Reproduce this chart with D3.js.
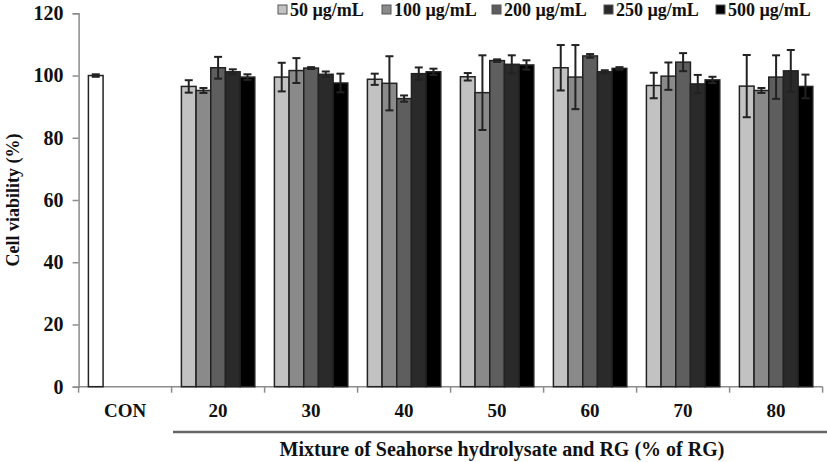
<!DOCTYPE html>
<html>
<head>
<meta charset="utf-8">
<script src="https://cdn.jsdelivr.net/npm/d3@7"></script>
<style>
  body { margin: 0; background: #fff; }
  text { font-family: "Liberation Serif", "DejaVu Serif", serif; font-weight: bold; }
</style>
</head>
<body>
<div id="chart"></div>
<script>
// categories on x axis
var groups = ["CON", "20", "30", "40", "50", "60", "70", "80"];
var series = ["50 µg/mL", "100 µg/mL", "200 µg/mL", "250 µg/mL", "500 µg/mL"];
var colors = ["#c2c2c2", "#8a8a8a", "#5e5e5e", "#2a2a2a", "#000000"];

// mean values per series, for groups 20..80
var v50  = [96.5, 99.5, 98.8, 99.6, 102.5, 96.8, 96.6];
var v100 = [95.2, 101.6, 97.5, 94.5, 99.5, 99.8, 95.2];
var v200 = [102.5, 102.4, 92.6, 104.8, 106.3, 104.3, 99.5];
var v250 = [101.2, 100.4, 100.6, 103.6, 101.2, 97.3, 101.5];
var v500 = [99.5, 97.6, 101.2, 103.4, 102.3, 98.6, 96.5];
// error (sd)
var e50  = [2.0, 4.6, 1.8, 1.2, 7.3, 4.1, 10.0];
var e100 = [0.8, 4.0, 8.7, 12.0, 10.3, 4.4, 0.8];
var e200 = [3.5, 0.3, 1.0, 0.4, 0.6, 2.9, 7.0];
var e250 = [0.8, 0.9, 2.0, 2.9, 0.5, 2.9, 6.7];
var e500 = [0.9, 3.0, 1.0, 1.5, 0.4, 1.0, 3.8];
var conValue = 100, conErr = 0.4;
var yTicks = [0, 20, 40, 60, 80, 100, 120];

var vals = [v50, v100, v200, v250, v500];
var errs = [e50, e100, e200, e250, e500];

const width = 827, height = 462;
var svg = d3.select("#chart").append("svg")
  .attr("width", width).attr("height", height);

var y = d3.scaleLinear().domain([0, 120]).range([386.7, 13.3]);
var x = d3.scaleBand().domain(groups).range([78.6, 822.6]).padding(0);
var xs = d3.scaleBand().domain(series).range([9.8, x.bandwidth() - 9.8]).padding(0);

// y axis
var yAxis = svg.append("g").attr("transform", "translate(78.6,0)")
  .call(d3.axisLeft(y).tickValues(yTicks).tickSize(6).tickPadding(9));
yAxis.select(".domain").attr("stroke", "#8c8c8c").attr("stroke-width", 1.5);
yAxis.selectAll(".tick line").attr("stroke", "#8c8c8c").attr("stroke-width", 1.5);
yAxis.selectAll(".tick text").attr("font-size", 20).attr("fill", "#111")
  .style("font-family", "Liberation Serif").style("font-weight", "bold");

// x axis line + ticks at band edges
var xg = svg.append("g");
xg.append("line").attr("x1", 78.6).attr("x2", 822.6).attr("y1", y(0)).attr("y2", y(0))
  .attr("stroke", "#8c8c8c").attr("stroke-width", 1.5);
xg.selectAll("line.tk").data(groups.concat(["end"])).enter().append("line")
  .attr("x1", (d, i) => 78.6 + i * x.bandwidth())
  .attr("x2", (d, i) => 78.6 + i * x.bandwidth())
  .attr("y1", y(0)).attr("y2", y(0) + 6)
  .attr("stroke", "#8c8c8c").attr("stroke-width", 1.5);
xg.selectAll("text").data(groups).enter().append("text")
  .attr("x", d => x(d) + x.bandwidth() / 2)
  .attr("y", 417).attr("text-anchor", "middle")
  .attr("font-size", 19).attr("fill", "#111").text(d => d);

// CON bar
svg.append("rect")
  .attr("x", x("CON") + xs(series[0])).attr("y", y(conValue))
  .attr("width", xs.bandwidth()).attr("height", y(0) - y(conValue))
  .attr("fill", "#fff").attr("stroke", "#222").attr("stroke-width", 1.5);

// grouped bars
var rows = [];
groups.slice(1).forEach(function(g, gi) {
  series.forEach(function(s, si) {
    rows.push({g: g, s: s, si: si, v: vals[si][gi], e: errs[si][gi]});
  });
});

svg.append("g").selectAll("rect").data(rows).enter().append("rect")
  .attr("x", d => x(d.g) + xs(d.s))
  .attr("y", d => y(d.v))
  .attr("width", xs.bandwidth())
  .attr("height", d => y(0) - y(d.v))
  .attr("fill", d => colors[d.si])
  .attr("stroke", "#222").attr("stroke-width", 1.5);

// error bars
var allErr = rows.concat([{g: "CON", s: series[0], v: conValue, e: conErr}]);
var eg = svg.append("g").attr("stroke", "#222").attr("stroke-width", 2);
allErr.forEach(function(d) {
  var cx = x(d.g) + xs(d.s) + xs.bandwidth() / 2;
  eg.append("line").attr("x1", cx).attr("x2", cx).attr("y1", y(d.v + d.e)).attr("y2", y(d.v - d.e));
  eg.append("line").attr("x1", cx - 4).attr("x2", cx + 4).attr("y1", y(d.v + d.e)).attr("y2", y(d.v + d.e));
  eg.append("line").attr("x1", cx - 4).attr("x2", cx + 4).attr("y1", y(d.v - d.e)).attr("y2", y(d.v - d.e));
});

// y title
svg.append("text")
  .attr("transform", "translate(19," + y(60) + ") rotate(-90)")
  .attr("text-anchor", "middle").attr("font-size", 18).attr("fill", "#111")
  .text("Cell viability (%)");

// bracket line and x title
svg.append("line").attr("x1", 173).attr("x2", 827).attr("y1", 432).attr("y2", 432)
  .attr("stroke", "#666").attr("stroke-width", 2.5);
svg.append("text").attr("x", 502).attr("y", 456).attr("text-anchor", "middle")
  .attr("font-size", 20).attr("fill", "#111")
  .text("Mixture of Seahorse hydrolysate and RG (% of RG)");

// legend
var legX = [278, 382, 492, 604, 716];
var leg = svg.append("g").selectAll("g").data(series).enter().append("g")
  .attr("transform", (d, i) => "translate(" + legX[i] + ",0)");
leg.append("rect").attr("x", 0).attr("y", 5).attr("width", 9).attr("height", 9)
  .attr("fill", (d, i) => colors[i]).attr("stroke", "#555").attr("stroke-width", 1);
leg.append("text").attr("x", 12).attr("y", 16).attr("font-size", 18).attr("fill", "#111")
  .text(d => d);
</script>
</body>
</html>
